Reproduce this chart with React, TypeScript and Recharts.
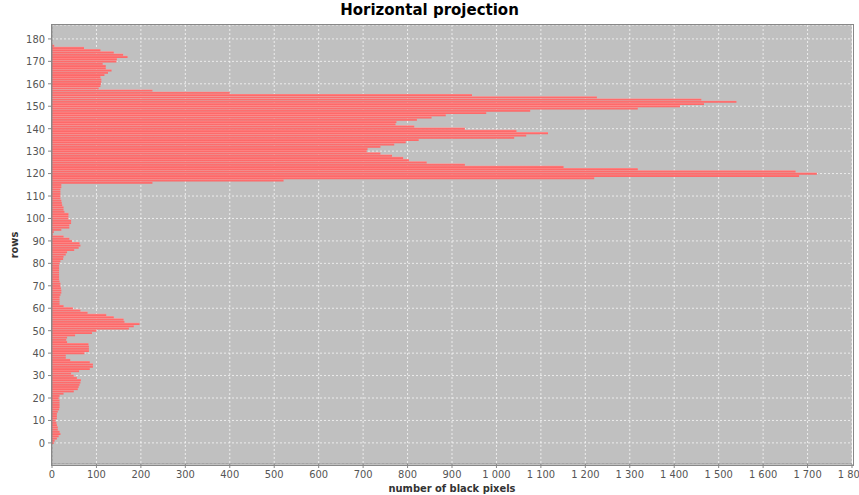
import React from "react";
import { Bar, BarChart, CartesianGrid, XAxis, YAxis } from "recharts";

// black pixel count per image row, read off the projection
// rows 0-59
const rowsBottom = [
  4, 6, 11, 15, 19, 17, 13, 13, 11, 10,
  8, 11, 11, 11, 13, 16, 17, 17, 17, 17,
  15, 17, 26, 49, 58, 60, 62, 64, 65, 56,
  49, 43, 61, 85, 92, 92, 85, 41, 31, 31,
  73, 83, 83, 83, 82, 34, 32, 34, 52, 90,
  100, 173, 184, 197, 163, 161, 139, 122, 80, 64
];
// rows 60-114
const rowsMiddle = [
  47, 26, 17, 17, 17, 17, 19, 21, 21, 20,
  19, 19, 17, 16, 16, 16, 16, 16, 16, 16,
  17, 19, 25, 26, 31, 34, 50, 60, 64, 62,
  45, 39, 26, 2, 4, 21, 39, 39, 43, 43,
  37, 37, 37, 28, 26, 26, 23, 22, 21, 19,
  19, 19, 19, 19, 21
];
// rows 115-177
const rowsTop = [
  21, 226, 521, 1220, 1681, 1721, 1673, 1318, 1151, 929,
  843, 803, 790, 765, 739, 708, 710, 739, 770, 796,
  825, 1040, 1067, 1116, 1045, 929, 815, 773, 775, 821,
  854, 886, 977, 1076, 1318, 1413, 1467, 1540, 1461, 1226,
  945, 400, 226, 105, 109, 110, 111, 111, 109, 118,
  126, 134, 121, 121, 114, 145, 146, 170, 160, 139,
  109, 72, 5
];

const xTicks = [0, 100, 200, 300, 400, 500, 600, 700, 800, 900, 1000, 1100, 1200, 1300, 1400, 1500, 1600, 1700, 1800];
const yTicks = [0, 10, 20, 30, 40, 50, 60, 70, 80, 90, 100, 110, 120, 130, 140, 150, 160, 170, 180];

const counts = [...rowsBottom, ...rowsMiddle, ...rowsTop];
const data = counts.map((count, row) => ({ row, count }));

const font = "'DejaVu Sans Condensed', 'DejaVu Sans', sans-serif";

const fmt = (v: number) =>
  v >= 1000 ? `${Math.floor(v / 1000)} ${String(v % 1000).padStart(3, "0")}` : String(v);

export default function App() {
  return (
    <div style={{ position: "absolute", left: 0, top: 0, width: 859, height: 495, background: "#fff", fontFamily: font }}>
      <div
        style={{
          position: "absolute",
          top: 1,
          left: 0,
          width: 859,
          textAlign: "center",
          font: "bold 15px 'DejaVu Sans', sans-serif",
          color: "#000"
        }}
      >
        Horizontal projection
      </div>
      <div
        style={{
          position: "absolute",
          left: 14,
          top: 245,
          transform: "translate(-50%, -50%) rotate(-90deg)",
          font: `bold 11px ${font}`,
          color: "#333"
        }}
      >
        rows
      </div>
      <BarChart
        width={859}
        height={495}
        data={data}
        layout="vertical"
        margin={{ top: 25, right: 7, bottom: 0, left: 0 }}
        barGap={0}
        barCategoryGap={0}
      >
        <defs>
          <linearGradient id="barFill" x1="0" y1="0" x2="0" y2="1">
            <stop offset="0%" stopColor="#ff9a9a" />
            <stop offset="40%" stopColor="#ff6d6d" />
            <stop offset="100%" stopColor="#fa6868" />
          </linearGradient>
        </defs>
        <CartesianGrid fill="#c0c0c0" stroke="#ffffff" strokeDasharray="2 2" strokeOpacity={0.7} />
        <XAxis
          type="number"
          domain={[0, 1800]}
          ticks={xTicks}
          interval={0}
          allowDataOverflow
          tickFormatter={fmt}
          height={31}
          tickSize={4}
          tickMargin={2}
          stroke="#888"
          tick={{ fill: "#555", fontSize: 11, fontFamily: font }}
          label={{
            value: "number of black pixels",
            position: "insideBottom",
            offset: 3,
            style: { fontWeight: "bold", fill: "#333", fontSize: 11, fontFamily: font }
          }}
        />
        <YAxis
          type="number"
          dataKey="row"
          domain={[-9.4, 186.2]}
          ticks={yTicks}
          interval={0}
          allowDataOverflow
          reversed
          width={52}
          tickSize={4}
          tickMargin={3}
          stroke="#888"
          tick={{ fill: "#555", fontSize: 11, fontFamily: font }}
        />
        <Bar dataKey="count" fill="url(#barFill)" barSize={2.2} isAnimationActive={false} />
      </BarChart>
      <div
        style={{
          position: "absolute",
          left: 51,
          top: 24,
          width: 801,
          height: 440,
          border: "1px solid #888",
          pointerEvents: "none"
        }}
      />
    </div>
  );
}
